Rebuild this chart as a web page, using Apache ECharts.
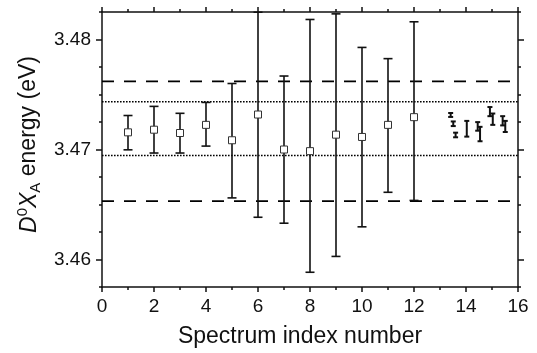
<!DOCTYPE html>
<html>
<head>
<meta charset="utf-8">
<script src="https://cdn.jsdelivr.net/npm/echarts@6/dist/echarts.min.js"></script>
<style>
  html, body { margin: 0; padding: 0; background: #fff; }
  #chart { width: 537px; height: 353px; }
</style>
</head>
<body>
<div id="chart"></div>
<script>
// spectra 1..12: centre value with error range
const spectrumIndex = [1, 2, 3, 4, 5, 6, 7, 8, 9, 10, 11, 12];
const energyCenter = [3.47156, 3.47180, 3.47150, 3.47224, 3.47084, 3.47318, 3.47000, 3.46985, 3.47135, 3.47114, 3.47224, 3.47294];
const energyLow = [3.46997, 3.46968, 3.46968, 3.47031, 3.46560, 3.46384, 3.46330, 3.45884, 3.46028, 3.46297, 3.46611, 3.46537];
const energyHigh = [3.47309, 3.47392, 3.47329, 3.47428, 3.47600, 3.48248, 3.47668, 3.48182, 3.48233, 3.47928, 3.47826, 3.48161];

// short bars right of 13
const smallIndex = [13.41, 13.51, 13.60, 14.03, 14.45, 14.54, 14.92, 15.03, 15.41, 15.51];
const smallLow = [3.47296, 3.47213, 3.47111, 3.47117, 3.47171, 3.47075, 3.47303, 3.47224, 3.47219, 3.47159];
const smallHigh = [3.47332, 3.47255, 3.47153, 3.47260, 3.47249, 3.47206, 3.47386, 3.47327, 3.47303, 3.47260];

// horizontal reference levels
const dashedLevels = [3.4653, 3.4762];
const dottedLevels = [3.46946, 3.47434];

// axis ticks
const xMajorTicks = [0, 2, 4, 6, 8, 10, 12, 14, 16];
const yLabels = [3.46, 3.47, 3.48];

const FONT = '"Liberation Sans", Arial, sans-serif';
const INK = '#111';

const chart = echarts.init(document.getElementById('chart'), null, {renderer: 'canvas'});

const errorRender = (capW, lw) => (params, api) => {
  const x = api.value(0);
  const lo = api.coord([x, api.value(1)]);
  const hi = api.coord([x, api.value(2)]);
  const st = {stroke: INK, lineWidth: lw};
  return {
    type: 'group',
    children: [
      {type: 'line', shape: {x1: lo[0], y1: lo[1], x2: hi[0], y2: hi[1]}, style: st},
      {type: 'line', shape: {x1: lo[0] - capW / 2, y1: lo[1], x2: lo[0] + capW / 2, y2: lo[1]}, style: st},
      {type: 'line', shape: {x1: hi[0] - capW / 2, y1: hi[1], x2: hi[0] + capW / 2, y2: hi[1]}, style: st}
    ]
  };
};

const levelSeries = (levels, dash, lw) => levels.map(v => ({
  type: 'line',
  data: [[0, v], [16, v]],
  symbol: 'none',
  silent: true,
  lineStyle: {color: '#000', width: lw, type: dash},
  z: 1
}));

const yBase = {
  type: 'value',
  min: 3.4575,
  max: 3.4825,
  interval: 0.0025,
  splitLine: {show: false},
  axisLine: {show: true, lineStyle: {color: INK, width: 1.5}}
};

const option = {
  animation: false,
  grid: {left: 102, right: 19, top: 12, bottom: 63},
  xAxis: [
    {
      type: 'value', position: 'bottom', min: 0, max: 16, interval: 2,
      splitLine: {show: false},
      axisLine: {lineStyle: {color: INK, width: 1.5}},
      axisTick: {length: 5, lineStyle: {color: INK, width: 1.5}},
      minorTick: {show: true, splitNumber: 2, length: 3, lineStyle: {color: INK, width: 1.5}},
      axisLabel: {color: INK, fontFamily: FONT, fontSize: 19, margin: 10,
        customValues: xMajorTicks},
      name: 'Spectrum index number',
      nameLocation: 'middle',
      nameGap: 38,
      nameTextStyle: {color: INK, fontFamily: FONT, fontSize: 23, padding: [0, 20, 0, 0]}
    },
    {
      type: 'value', position: 'top', min: 0, max: 16, interval: 2,
      splitLine: {show: false},
      axisLine: {lineStyle: {color: INK, width: 1.5}},
      axisTick: {length: 5, lineStyle: {color: INK, width: 1.5}},
      minorTick: {show: true, splitNumber: 2, length: 3, lineStyle: {color: INK, width: 1.5}},
      axisLabel: {show: false}
    }
  ],
  yAxis: [
    Object.assign({}, yBase, {
      position: 'left',
      axisTick: {length: 3, lineStyle: {color: INK, width: 1.5}},
      axisLabel: {
        color: INK, fontFamily: FONT, fontSize: 19, margin: 11,
        customValues: yLabels,
        formatter: v => v.toFixed(2)
      },
      name: '{it|D}{sup|0}{it|X}{sub|A}{n| energy (eV)}',
      nameLocation: 'middle',
      nameGap: 50,
      nameTextStyle: {
        color: INK, fontFamily: FONT, fontSize: 23, padding: [0, 0, 0, 10],
        rich: {
          it: {fontStyle: 'italic', fontSize: 23, fontFamily: FONT, color: INK, lineHeight: 28},
          n: {fontSize: 23, fontFamily: FONT, color: INK, lineHeight: 28},
          sup: {fontSize: 15, fontFamily: FONT, color: INK, verticalAlign: 'top', lineHeight: 28},
          sub: {fontSize: 15, fontFamily: FONT, color: INK, verticalAlign: 'bottom', lineHeight: 28}
        }
      }
    }),
    Object.assign({}, yBase, {
      position: 'left',
      axisLine: {show: false},
      axisTick: {length: 6, customValues: yLabels, lineStyle: {color: INK, width: 1.5}},
      axisLabel: {show: false}
    }),
    Object.assign({}, yBase, {
      position: 'right',
      axisTick: {length: 3, lineStyle: {color: INK, width: 1.5}},
      axisLabel: {show: false}
    }),
    Object.assign({}, yBase, {
      position: 'right',
      axisLine: {show: false},
      axisTick: {length: 6, customValues: yLabels, lineStyle: {color: INK, width: 1.5}},
      axisLabel: {show: false}
    })
  ],
  series: [
    ...levelSeries(dashedLevels, [12, 10], 1.8),
    ...levelSeries(dottedLevels, [1.6, 1.4], 1.6),
    {
      type: 'custom',
      renderItem: errorRender(9, 1.6),
      data: spectrumIndex.map((x, i) => [x, energyLow[i], energyHigh[i]]),
      z: 3
    },
    {
      type: 'custom',
      renderItem: errorRender(5, 2),
      data: smallIndex.map((x, i) => [x, smallLow[i], smallHigh[i]]),
      z: 3
    },
    {
      type: 'scatter',
      data: spectrumIndex.map((x, i) => [x, energyCenter[i]]),
      symbol: 'rect',
      symbolSize: 7,
      itemStyle: {color: '#fff', borderColor: '#333', borderWidth: 1, opacity: 1},
      z: 5
    }
  ]
};

chart.setOption(option);
</script>
</body>
</html>
